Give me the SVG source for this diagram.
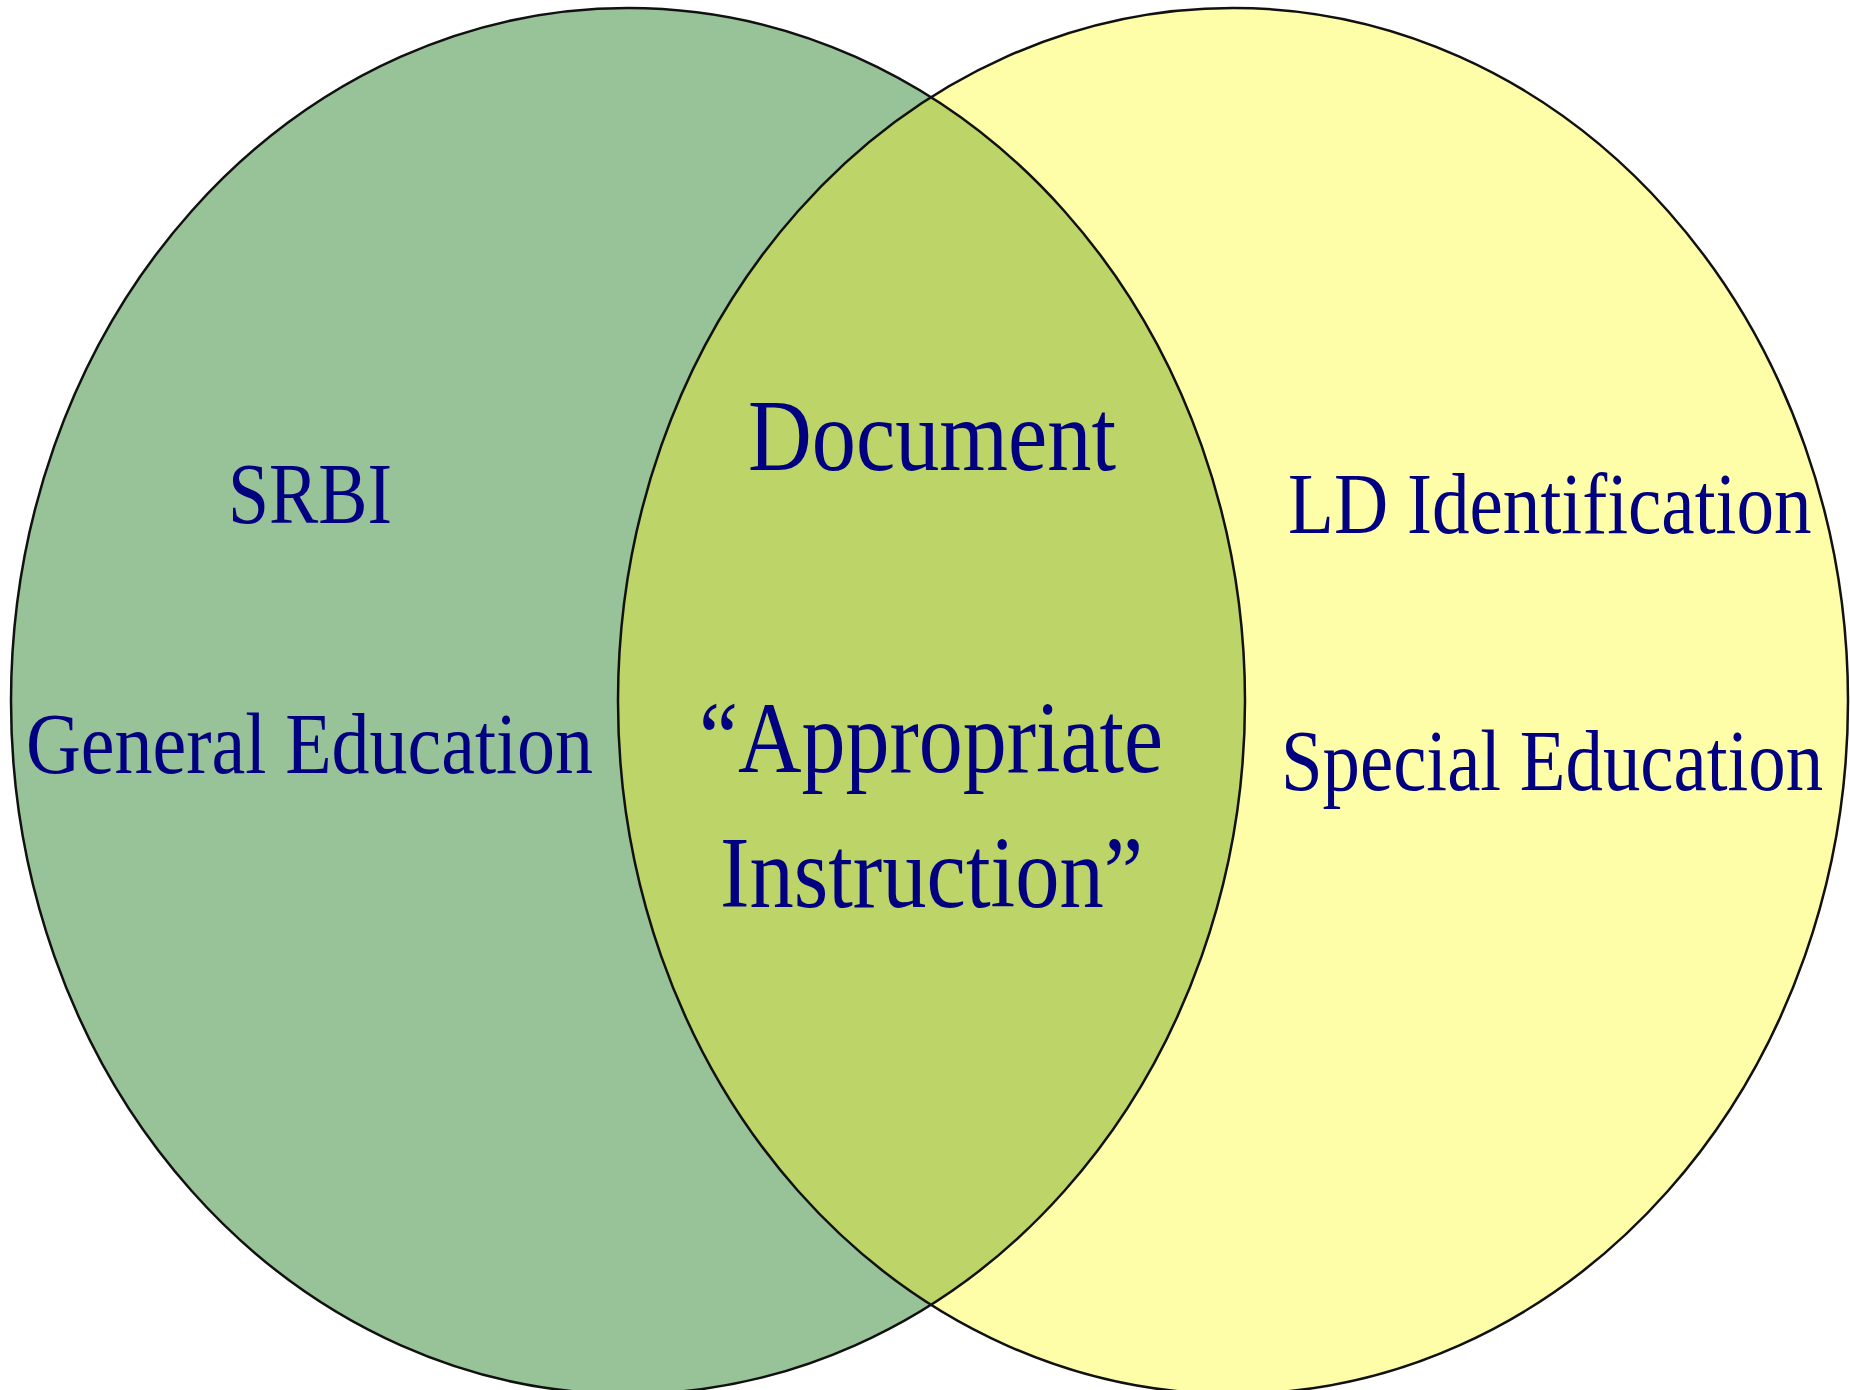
<svg xmlns="http://www.w3.org/2000/svg" width="1850" height="1390" viewBox="0 0 1850 1390">
<style>
.lbl{font-family:"Liberation Serif","Times New Roman",serif;fill:#000080}
.side{font-size:87px}
.mid{font-size:101px}
.edge{fill:none;stroke:#111;stroke-width:2.5}
</style>
<defs>
<clipPath id="leftClip"><ellipse cx="628" cy="701" rx="617" ry="693"/></clipPath>
</defs>
<rect width="1850" height="1390" fill="#ffffff"/>
<g id="general-education">
<ellipse cx="628" cy="701" rx="617" ry="693" fill="#98c398"/>
</g>
<g id="special-education">
<ellipse cx="1233" cy="701" rx="615" ry="693" fill="#fefea8"/>
</g>
<g id="overlap">
<ellipse cx="1233" cy="701" rx="615" ry="693" fill="#bdd468" clip-path="url(#leftClip)"/>
</g>
<g id="outlines">
<ellipse class="edge" cx="628" cy="701" rx="617" ry="693"/>
<ellipse class="edge" cx="1233" cy="701" rx="615" ry="693"/>
</g>
<g id="connectors"/>
<g id="left-labels">
<text class="lbl side" x="228" y="523" textLength="164" lengthAdjust="spacingAndGlyphs">SRBI</text>
<text class="lbl side" x="26" y="773" textLength="567" lengthAdjust="spacingAndGlyphs">General Education</text>
</g>
<g id="center-labels">
<text class="lbl mid" x="748" y="470" textLength="368" lengthAdjust="spacingAndGlyphs">Document</text>
<text class="lbl mid" x="699" y="772" textLength="464" lengthAdjust="spacingAndGlyphs">“Appropriate</text>
<text class="lbl mid" x="720" y="907" textLength="423" lengthAdjust="spacingAndGlyphs">Instruction”</text>
</g>
<g id="right-labels">
<text class="lbl side" transform="translate(1288,533) scale(0.864,1)" textLength="606" lengthAdjust="spacingAndGlyphs">LD Identification</text>
<text class="lbl side" transform="translate(1281,790) scale(0.859,1)" textLength="631" lengthAdjust="spacingAndGlyphs">Special Education</text>
</g>
</svg>
